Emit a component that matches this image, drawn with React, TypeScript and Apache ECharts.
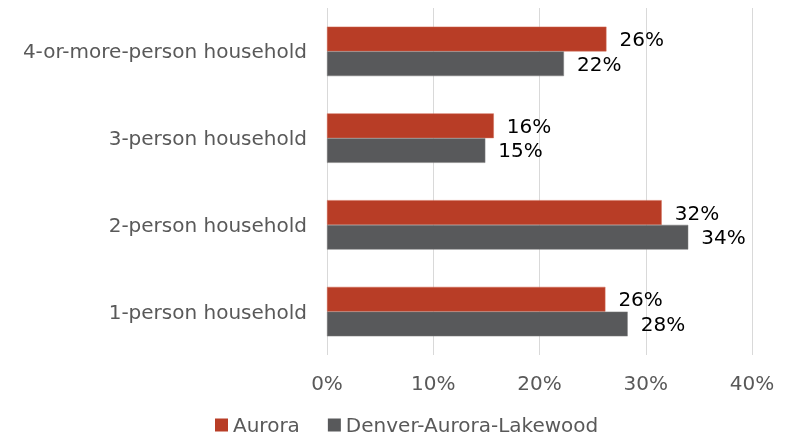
import React, { useEffect, useRef } from "react";
import * as echarts from "echarts";

const categories = ["1-person household", "2-person household", "3-person household", "4-or-more-person household"];
const auroraValues = [26.2, 31.5, 15.7, 26.3];
const metroValues = [28.3, 34.0, 14.9, 22.3];
const seriesNames = ["Aurora", "Denver-Aurora-Lakewood"];
const xTicks = [0, 10, 20, 30, 40];

export default function App() {
  const ref = useRef<HTMLDivElement>(null);
  useEffect(() => {
    if (!ref.current) return;
    const chart = echarts.init(ref.current, null, { renderer: "svg" });
    const font = "'DejaVu Sans', Verdana, sans-serif";
    const label = {
      show: true,
      position: "right",
      distance: 13,
      color: "#000",
      fontFamily: font,
      fontSize: 20,
      formatter: (p: any) => Math.round(p.value) + "%",
    };
    chart.setOption({
      animation: false,
      grid: { left: 327, right: 36, top: 8, bottom: 83 },
      legend: {
        data: seriesNames,
        top: 410,
        left: 210,
        icon: "rect",
        itemWidth: 13,
        itemHeight: 13,
        itemGap: 28,
        itemStyle: { borderWidth: 0 },
        textStyle: { color: "#595959", fontFamily: font, fontSize: 20 },
      },
      xAxis: {
        type: "value",
        min: xTicks[0],
        max: xTicks[xTicks.length - 1],
        interval: 10,
        axisLine: { show: false },
        axisTick: { show: false },
        splitLine: { show: true, lineStyle: { color: "#D9D9D9", width: 1 } },
        axisLabel: {
          color: "#595959",
          fontFamily: font,
          fontSize: 20,
          margin: 18,
          formatter: (v: number) => v + "%",
        },
      },
      yAxis: {
        type: "category",
        data: categories,
        axisLine: { show: false },
        axisTick: { show: false },
        axisLabel: { color: "#595959", fontFamily: font, fontSize: 20, margin: 20 },
      },
      series: [
        {
          name: seriesNames[0],
          type: "bar",
          data: auroraValues,
          barGap: "0%",
          barCategoryGap: "43%",
          itemStyle: { color: "#B83D26", borderColor: "#D06A55", borderWidth: 0.5 },
          label,
        },
        {
          name: seriesNames[1],
          type: "bar",
          data: metroValues,
          barGap: "0%",
          barCategoryGap: "43%",
          itemStyle: { color: "#58595B", borderColor: "#7F7F7F", borderWidth: 0.5 },
          label,
        },
      ],
    });
    return () => chart.dispose();
  }, []);
  return (
    <div
      ref={ref}
      style={{ position: "fixed", left: 0, top: 0, width: 788, height: 438 }}
    />
  );
}
